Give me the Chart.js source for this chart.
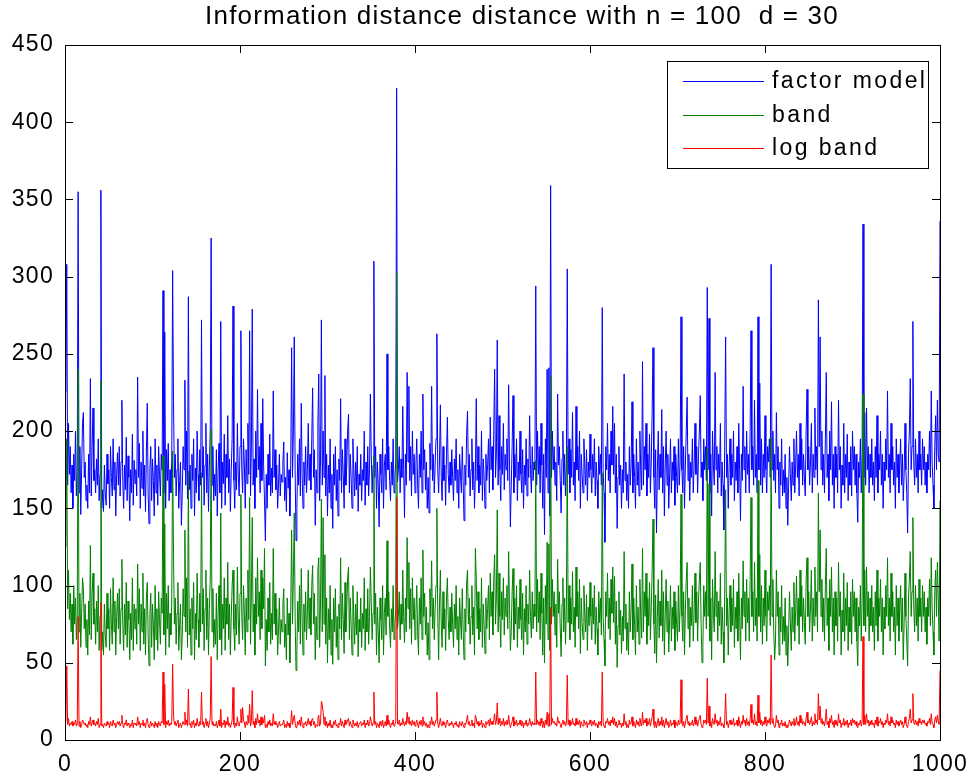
<!DOCTYPE html>
<html>
<head>
<meta charset="utf-8">
<script src="https://cdn.jsdelivr.net/npm/chart.js@4.4.1/dist/chart.umd.min.js"></script>
<style>
  html, body { margin: 0; padding: 0; background: #fff; }
  canvas { display: block; }
</style>
</head>
<body>
<canvas id="chart" width="979" height="779"></canvas>
<script>
const titleText = 'Information distance distance with n = 100  d = 30';
const seriesNames = ['factor model', 'band', 'log band'];
const seriesColors = ['#0000ff', '#008000', '#ff0000'];
const xTicks = [0, 200, 400, 600, 800, 1000];
const yTicks = [0, 50, 100, 150, 200, 250, 300, 350, 400, 450];

// sample index 1..1000
const samples = Array.from({ length: 1000 }, (_, i) => i + 1);

const factorModel = [
  225,308,165,205,172,190,160,178,150,185,168,200,158,175,355,160,190,146,175,205,
  212,170,180,155,165,150,185,160,234,158,190,215,168,175,160,182,165,195,155,172,
  356,150,162,148,178,160,152,185,166,175,150,190,170,158,195,162,180,145,172,186,
  165,190,158,180,220,168,150,178,162,196,155,184,170,142,175,160,198,152,181,166,
  175,158,235,170,192,150,180,163,200,158,178,148,186,218,160,140,175,190,155,182,
  168,145,195,160,178,152,190,172,158,185,175,291,160,264,150,188,168,192,155,175,
  160,182,304,220,170,185,158,175,195,150,168,180,139,160,190,175,233,165,200,156,
  287,162,178,150,185,168,195,145,176,160,200,172,155,188,165,272,170,190,152,178,
  205,160,185,148,178,200,325,165,190,155,172,158,188,145,175,192,160,271,150,180,
  166,198,152,185,170,210,160,182,148,175,195,281,168,150,180,162,205,172,158,190,
  265,175,160,195,178,150,188,166,205,172,265,158,190,279,165,182,150,200,170,227,
  175,190,160,205,168,221,178,155,129,172,150,185,165,198,158,176,160,226,170,188,
  162,178,150,165,185,158,172,167,180,193,155,170,148,186,163,175,145,180,254,170,
  200,261,175,129,150,185,165,195,158,218,172,150,180,165,190,160,175,205,168,185,
  162,195,228,170,188,139,175,160,205,237,155,180,272,165,200,170,236,158,185,145,
  178,160,195,150,172,137,185,165,190,155,175,145,182,168,221,160,188,172,150,195,
  165,178,200,211,160,185,170,150,195,175,158,180,162,190,148,172,165,185,155,175,
  168,200,152,180,165,190,158,175,224,185,160,178,310,170,190,150,180,165,138,185,
  172,160,195,150,178,185,162,250,175,190,168,155,180,165,195,160,170,180,422,167,
  175,190,160,182,170,216,175,144,185,165,238,180,229,168,190,158,200,172,185,160,
  178,195,165,150,185,170,200,160,224,175,188,162,180,150,170,147,192,175,229,168,
  185,160,178,195,263,175,160,182,217,170,155,190,168,178,152,185,209,172,160,180,
  165,188,170,155,182,168,195,160,175,150,185,172,160,190,168,142,178,165,198,213,
  170,185,158,175,195,162,180,150,172,221,168,190,160,178,165,200,155,182,170,150,
  185,168,178,195,160,209,175,190,162,200,240,170,185,259,165,210,175,155,190,172,
  205,162,185,175,195,168,230,178,138,165,190,223,160,185,170,195,155,180,168,200,
  172,160,188,150,178,165,195,158,182,170,210,175,160,190,168,180,175,294,165,200,
  172,190,160,205,178,150,185,133,195,170,240,160,241,145,359,170,200,175,190,165,
  180,155,224,178,190,168,147,182,200,165,185,158,178,305,172,195,160,188,170,212,
  165,180,155,216,175,190,168,200,150,185,172,160,195,178,165,188,155,180,170,198,
  175,160,185,170,195,158,180,168,150,190,172,185,165,280,175,160,128,190,175,205,
  168,185,160,200,178,216,172,205,160,185,137,170,190,165,178,150,175,160,237,168,
  180,155,172,150,190,165,178,219,160,185,170,150,195,165,180,158,200,175,162,245,
  165,190,175,205,158,185,170,198,160,180,212,254,170,150,188,134,175,200,162,185,
  170,214,160,190,145,178,200,165,185,150,172,195,160,180,168,190,152,185,170,160,
  195,165,180,274,175,160,190,150,178,200,222,168,185,155,180,170,195,160,178,205,
  172,190,160,185,200,223,170,180,155,195,175,190,168,293,175,273,160,185,145,200,
  178,165,238,175,190,160,185,170,205,158,180,165,136,195,261,170,185,150,178,195,
  165,185,170,200,155,180,168,190,160,205,175,142,185,168,229,175,190,160,200,172,
  185,160,200,265,175,190,165,220,170,185,160,274,175,231,165,195,160,185,170,210,
  175,160,190,180,195,170,308,175,200,168,185,160,212,175,190,150,180,165,195,158,
  175,160,185,150,170,139,165,190,172,155,180,165,195,160,178,200,170,185,158,205,
  175,195,165,185,170,158,200,227,175,190,165,180,205,160,185,170,215,175,190,165,
  285,190,261,175,200,165,185,160,195,238,170,185,155,200,175,219,165,185,150,190,
  170,185,160,220,175,190,150,178,165,205,160,185,170,198,155,180,165,190,158,200,
  175,190,165,185,160,141,180,170,195,160,185,334,170,212,165,215,175,190,160,185,
  170,195,165,180,155,190,170,210,160,185,175,200,165,185,150,180,168,195,175,226,
  170,185,160,205,175,190,165,180,150,195,170,185,160,178,195,165,185,155,172,205,
  175,160,134,185,200,234,175,190,271,180,165,195,170,185,160,200,175,185,165,195,
  175,190,165,180,160,185,175,200,170,226,180,165,150,190,210,175,220,185,180,336
];

const band = [
  125,195,85,110,78,95,70,88,62,100,75,92,65,80,240,70,95,60,82,105,
  98,72,88,60,78,55,90,68,126,65,95,108,75,85,62,90,70,100,58,80,
  233,58,70,55,88,68,60,95,72,85,58,98,75,62,105,70,90,55,80,95,
  72,98,62,85,117,75,58,88,68,102,60,90,78,52,82,65,105,58,88,72,
  85,62,114,75,98,58,88,70,108,62,85,55,92,102,68,48,80,95,60,88,
  75,52,100,65,85,58,96,78,62,92,82,184,68,140,55,95,72,100,60,82,
  68,90,187,121,75,92,62,82,102,58,75,88,52,68,98,80,136,70,105,60,
  174,68,85,55,92,72,102,52,82,65,108,78,60,95,70,173,75,98,58,85,
  110,65,92,55,85,105,201,70,98,60,78,62,95,52,82,100,65,147,55,88,
  72,105,58,92,75,115,65,88,55,80,100,110,72,58,88,68,112,78,62,95,
  159,80,65,100,82,55,92,70,110,78,157,62,95,144,70,88,55,105,75,118,
  80,96,65,110,72,105,85,124,48,78,58,92,70,102,62,82,65,124,75,95,
  68,85,55,72,92,62,78,70,88,98,60,75,52,92,68,82,50,86,136,75,
  105,147,80,45,58,90,70,100,62,111,78,55,88,70,96,65,82,110,72,92,
  68,100,113,75,95,52,80,65,110,118,60,88,156,70,144,75,120,62,92,50,
  85,65,100,55,78,49,92,70,98,60,80,52,88,72,118,65,95,78,56,102,
  70,85,105,112,65,92,75,55,100,80,62,88,68,96,54,78,70,92,60,82,
  72,105,58,85,70,98,62,80,112,90,65,82,184,75,95,55,86,70,50,92,
  78,65,100,55,82,92,68,129,80,96,72,60,85,70,100,65,75,85,303,72,
  80,96,65,88,75,110,80,63,92,70,131,85,115,72,98,62,105,78,92,65,
  82,100,70,55,92,75,105,65,123,80,95,68,86,55,76,52,98,80,116,72,
  92,65,85,100,150,80,52,88,110,75,60,96,72,85,58,92,105,78,65,86,
  70,95,75,60,88,72,100,65,80,55,92,78,65,98,72,52,85,70,102,110,
  75,92,62,80,100,68,86,55,124,105,72,96,65,85,70,105,60,88,75,56,
  92,72,85,100,65,108,80,96,68,104,120,75,92,149,70,108,80,60,96,78,
  105,68,92,80,100,72,122,85,58,70,96,111,65,92,75,100,60,86,72,104,
  78,65,95,55,85,70,100,62,88,75,110,80,66,96,72,88,80,181,70,104,
  76,96,65,108,82,55,92,50,100,75,128,65,127,58,236,75,104,80,96,68,
  88,60,117,82,96,72,54,88,105,70,92,62,85,190,76,100,65,92,75,109,
  70,86,60,112,80,96,72,104,56,92,76,65,100,82,70,94,58,86,74,102,
  80,65,92,75,100,62,86,72,55,96,76,92,68,173,80,65,48,96,80,108,
  72,92,65,104,82,112,76,106,62,90,47,74,96,68,84,56,80,64,122,72,
  88,58,76,55,96,70,84,114,65,92,74,55,100,70,86,62,104,80,66,124,
  70,96,80,108,62,92,74,102,65,86,110,143,75,56,94,50,80,104,66,90,
  74,110,64,96,55,82,104,70,90,57,78,100,64,86,72,96,58,90,75,64,
  100,70,86,159,80,64,96,55,84,104,115,72,92,60,86,74,100,64,82,108,
  76,96,64,90,104,115,74,50,60,100,80,96,72,189,80,166,64,92,52,104,
  82,70,122,80,96,64,90,74,108,62,86,70,50,100,162,74,92,55,84,100,
  70,92,74,104,60,86,72,96,64,108,80,52,92,72,116,80,96,64,104,76,
  92,64,104,157,80,96,70,115,74,92,64,168,80,120,70,100,62,92,74,110,
  80,64,96,84,100,74,196,80,104,70,52,64,110,80,96,55,86,70,100,62,
  80,64,92,55,74,48,70,96,76,58,86,70,102,64,84,106,74,92,62,110,
  80,100,70,92,76,62,104,118,80,96,70,86,110,64,92,74,112,80,96,70,
  160,96,136,80,104,70,92,64,100,124,74,92,58,104,80,112,70,92,55,96,
  74,92,64,115,80,96,55,84,70,108,64,92,74,102,58,86,70,96,62,104,
  80,96,70,92,64,48,86,74,100,64,92,224,74,110,70,112,80,96,64,92,
  74,100,70,86,58,96,74,110,64,92,80,104,70,92,55,86,72,100,80,118,
  74,92,64,108,80,96,70,86,55,100,74,92,64,84,100,70,92,52,76,108,
  80,64,48,92,104,122,80,96,144,86,70,100,74,92,64,104,80,92,70,100,
  80,96,70,86,62,92,80,104,74,118,86,70,55,96,110,80,115,92,64,155
];

const logBand = [
  12,48,10,14,9,11,10,12,9,11,10,13,9,10,80,9,12,8,10,13,
  12,10,11,9,10,8,12,10,15,9,11,13,10,11,9,12,10,14,8,10,
  89,9,10,8,11,10,9,12,10,11,8,12,10,9,13,10,11,8,10,12,
  10,12,9,11,16,10,8,11,10,13,9,11,10,8,10,9,13,8,11,10,
  11,9,15,10,12,8,11,10,13,9,11,8,12,14,10,8,10,12,9,11,
  10,8,12,9,11,8,12,10,9,12,11,44,10,36,8,12,10,13,9,11,
  10,12,49,16,10,12,9,11,13,8,10,11,8,10,12,10,18,10,13,9,
  33,10,11,8,12,10,13,8,11,9,14,10,9,12,10,31,10,12,8,11,
  14,9,12,8,11,14,54,10,12,9,10,9,12,8,10,13,9,20,8,11,
  10,13,8,12,10,15,9,11,8,10,13,34,10,8,11,9,15,10,9,12,
  20,11,21,13,11,8,12,10,16,11,23,9,12,32,10,12,8,14,10,17,
  11,13,9,15,10,14,11,16,8,10,8,12,10,13,9,11,9,17,10,12,
  10,11,8,10,12,9,10,10,11,13,8,10,8,12,9,11,8,11,19,10,
  13,16,11,8,9,12,10,13,9,15,10,8,11,10,12,9,11,14,10,12,
  9,13,14,10,12,8,10,9,14,16,9,11,25,23,18,10,15,9,12,8,
  11,9,13,8,10,8,12,10,13,9,10,8,11,10,14,9,12,10,8,13,
  10,11,13,14,9,12,10,8,13,11,9,11,9,12,8,10,10,12,9,11,
  10,13,8,11,10,13,9,10,15,12,9,11,31,10,12,8,11,10,8,12,
  10,9,13,8,10,12,9,16,10,13,10,8,11,10,13,9,10,12,157,11,
  10,13,9,11,10,14,11,9,12,10,18,11,15,10,12,9,13,10,12,9,
  11,13,10,8,12,10,13,9,15,10,12,9,11,8,10,8,12,10,15,10,
  12,9,11,13,31,11,8,11,14,10,9,12,10,11,8,12,13,10,9,11,
  10,12,10,8,11,10,12,9,10,8,12,10,9,12,10,8,11,10,13,16,
  10,12,9,10,13,9,11,8,16,14,10,12,9,11,10,13,8,11,10,8,
  12,10,11,13,9,14,10,12,10,13,17,10,12,24,10,14,11,9,12,10,
  14,9,12,10,13,10,16,11,8,10,12,15,9,12,10,13,9,11,10,13,
  10,9,12,8,11,10,13,9,11,10,14,11,9,12,10,11,10,44,10,13,
  10,12,9,14,11,8,12,8,13,10,18,9,17,9,86,10,14,11,12,10,
  11,9,15,11,12,10,8,11,13,10,12,9,11,42,10,13,9,12,10,14,
  10,11,9,14,10,12,10,13,8,12,10,9,13,11,10,12,8,11,10,13,
  11,9,12,10,13,9,11,10,8,12,10,12,9,44,11,9,8,12,11,14,
  10,12,9,13,11,15,10,14,9,12,8,10,13,10,11,8,11,9,17,10,
  12,8,10,8,13,10,11,15,9,12,10,8,13,10,12,9,14,11,9,18,
  10,13,11,14,9,12,10,14,9,12,15,20,10,8,12,8,11,14,9,12,
  10,15,9,13,8,11,14,10,12,8,10,13,9,11,10,13,8,12,10,9,
  13,10,11,39,11,9,12,8,11,14,16,10,12,9,11,10,13,9,11,15,
  10,13,9,12,14,16,10,8,9,13,11,13,10,40,11,22,9,12,8,14,
  11,10,17,11,13,9,12,10,15,9,11,10,8,13,30,10,12,8,11,13,
  10,12,10,14,9,11,10,13,9,15,11,8,12,10,16,11,13,9,14,10,
  12,9,14,23,11,13,10,17,10,12,9,29,11,18,10,13,9,12,10,15,
  11,9,13,11,14,10,55,11,14,10,8,9,16,11,13,8,11,10,13,9,
  11,9,12,8,10,8,10,13,11,9,12,10,14,9,11,15,10,12,9,16,
  11,14,10,12,11,9,14,18,11,13,10,12,15,9,12,10,17,11,13,10,
  30,13,22,11,14,10,12,9,13,20,10,12,8,14,11,16,10,12,8,13,
  10,12,9,17,11,13,8,11,10,14,9,12,10,13,8,11,10,13,9,14,
  11,13,10,12,9,8,11,10,13,9,12,67,10,16,10,17,11,13,9,12,
  10,13,10,11,8,13,10,15,9,12,11,14,10,12,8,11,10,13,11,17,
  10,12,9,15,11,13,10,11,8,13,10,12,9,11,13,10,12,8,10,15,
  11,9,8,12,14,20,11,13,30,11,10,13,10,12,9,14,11,12,10,13,
  11,13,10,11,9,12,11,14,10,17,11,10,8,13,15,11,16,12,10,45
];

const seriesData = [factorModel, band, logBand];
const FONT = "'Liberation Sans', Arial, Helvetica, sans-serif";

// the tick labels in the original are slightly letter-spaced
const spacedTicks = {
  id: 'spacedTicks',
  beforeDraw(chart) { chart.ctx.letterSpacing = '1.3px'; },
  afterDraw(chart) { chart.ctx.letterSpacing = '0px'; }
};

// title, axes box with inward ticks on all four sides, legend box
const matlabFrame = {
  id: 'matlabFrame',
  afterDatasetsDraw(chart) {
    const { ctx, chartArea: a, scales: { x, y } } = chart;
    ctx.save();
    ctx.strokeStyle = '#000';
    ctx.lineWidth = 1;
    ctx.strokeRect(Math.round(a.left) + 0.5, Math.round(a.top) + 0.5,
      Math.round(a.right - a.left), Math.round(a.bottom - a.top));
    const tl = 8;
    ctx.beginPath();
    xTicks.forEach(v => {
      const px = Math.round(x.getPixelForValue(v)) + 0.5;
      ctx.moveTo(px, a.bottom); ctx.lineTo(px, a.bottom - tl);
      ctx.moveTo(px, a.top); ctx.lineTo(px, a.top + tl);
    });
    yTicks.forEach(v => {
      const py = Math.round(y.getPixelForValue(v)) + 0.5;
      ctx.moveTo(a.left, py); ctx.lineTo(a.left + tl, py);
      ctx.moveTo(a.right, py); ctx.lineTo(a.right - tl, py);
    });
    ctx.stroke();

    // title
    ctx.fillStyle = '#000';
    ctx.font = '26px ' + FONT;
    ctx.textAlign = 'center';
    ctx.textBaseline = 'middle';
    ctx.letterSpacing = '1.2px';
    ctx.fillText(titleText, 522, 17);

    // legend
    const lx = 667, ly = 61, lw = 261, lh = 107;
    ctx.fillStyle = '#fff';
    ctx.fillRect(lx, ly, lw, lh);
    ctx.strokeStyle = '#000';
    ctx.strokeRect(lx + 0.5, ly + 0.5, lw, lh);
    ctx.font = '23px ' + FONT;
    ctx.textAlign = 'left';
    ctx.letterSpacing = '2.4px';
    chart.data.datasets.forEach((ds, i) => {
      const rowY = 81 + i * 33.5;
      ctx.strokeStyle = ds.borderColor;
      ctx.beginPath();
      ctx.moveTo(683, Math.round(rowY) + 0.5);
      ctx.lineTo(764, Math.round(rowY) + 0.5);
      ctx.stroke();
      ctx.fillStyle = '#000';
      ctx.fillText(ds.label, 772, rowY + 1);
    });
    ctx.restore();
  }
};

new Chart(document.getElementById('chart'), {
  type: 'line',
  data: {
    labels: samples,
    datasets: seriesNames.map((name, i) => ({
      label: name,
      data: seriesData[i],
      borderColor: seriesColors[i],
      borderWidth: 1,
      pointRadius: 0,
      tension: 0,
      fill: false,
      order: 3 - i
    }))
  },
  options: {
    responsive: false,
    animation: false,
    devicePixelRatio: 1,
    layout: { padding: { left: 0, right: 39, top: 45, bottom: 0 } },
    plugins: { legend: { display: false }, title: { display: false }, tooltip: { enabled: false } },
    scales: {
      x: {
        type: 'linear', min: 0, max: 1000,
        afterBuildTicks: s => { s.ticks = xTicks.map(v => ({ value: v })); },
        afterFit: s => { s.height = 39; },
        grid: { display: false, drawTicks: false },
        border: { display: false },
        ticks: { color: '#000', font: { family: FONT, size: 23 }, padding: 11, maxRotation: 0,
                 callback: v => String(v) }
      },
      y: {
        min: 0, max: 450,
        afterBuildTicks: s => { s.ticks = yTicks.map(v => ({ value: v })); },
        afterFit: s => { s.width = 65; },
        grid: { display: false, drawTicks: false },
        border: { display: false },
        ticks: { color: '#000', font: { family: FONT, size: 23 }, padding: 11,
                 callback: v => String(v) }
      }
    }
  },
  plugins: [spacedTicks, matlabFrame]
});
</script>
</body>
</html>
